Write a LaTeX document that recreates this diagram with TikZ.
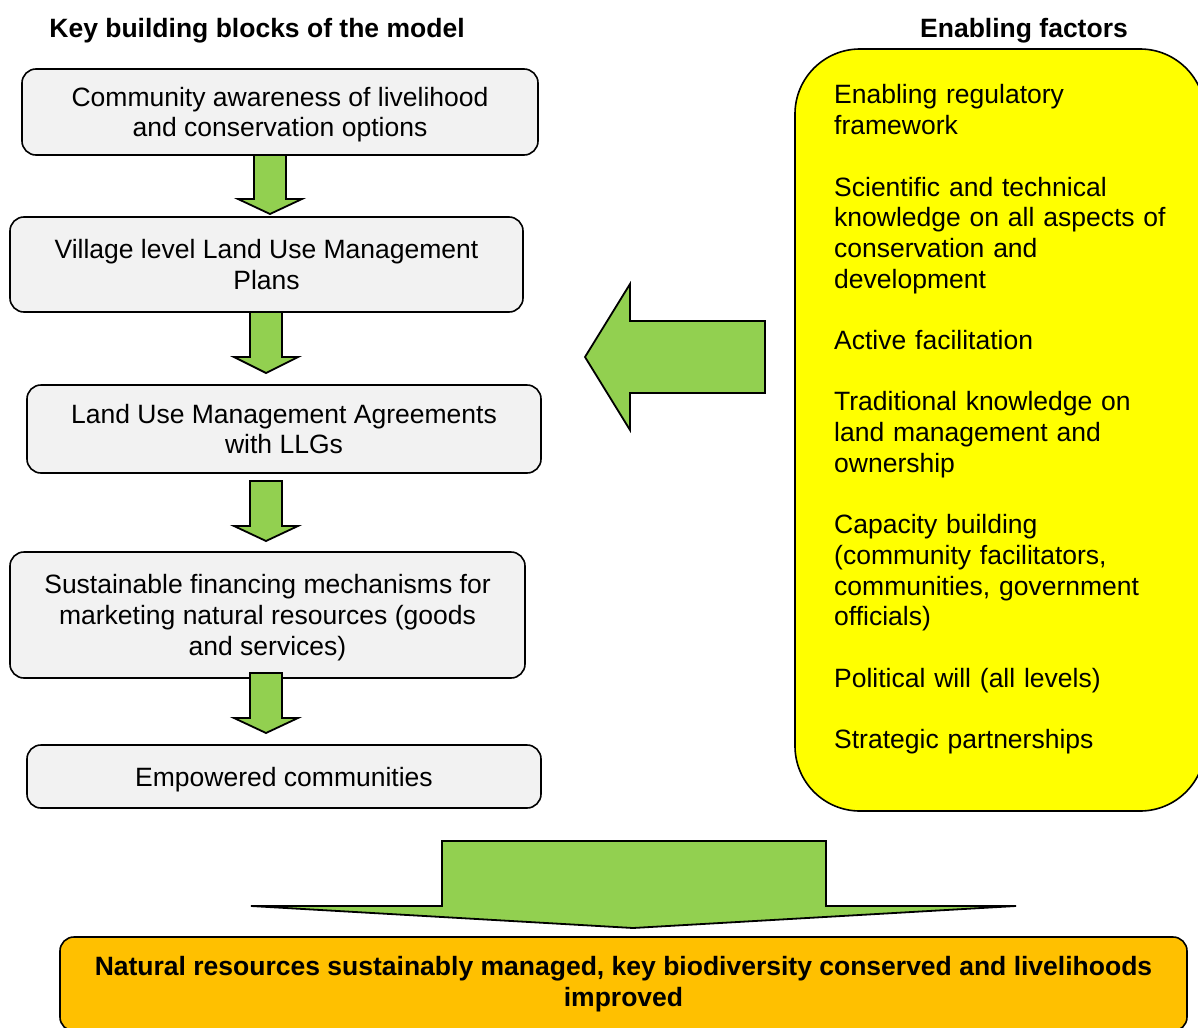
\documentclass[tikz,border=0pt]{standalone}
\usepackage{fontspec}
\setmainfont{Liberation Sans}
\definecolor{boxgray}{HTML}{F2F2F2}
\definecolor{leafgreen}{HTML}{92D050}
\definecolor{factoryellow}{HTML}{FFFF00}
\definecolor{outcomeorange}{HTML}{FFC000}
% downward block arrow: centre x, top y, head base y, tip y, shaft half width, head half width
\newcommand{\dblock}[6]{%
  \draw[fat arrow] ({#1-#5},#2) -- ({#1+#5},#2) -- ({#1+#5},#3) -- ({#1+#6},#3)
    -- (#1,#4) -- ({#1-#6},#3) -- ({#1-#5},#3) -- cycle;}
\begin{document}
\begin{tikzpicture}[x=1bp,y=-1bp,
  every node/.style={font=\fontsize{26.5bp}{30.7bp}\selectfont, inner sep=0pt},
  block/.style={draw=black, line width=1.6bp, fill=boxgray, rounded corners=14bp,
                align=center, text depth=0pt},
  fat arrow/.style={draw=black, line width=1.8bp, fill=leafgreen, line join=miter},
  heading/.style={font=\fontsize{26.5bp}{30.7bp}\selectfont\bfseries, anchor=base}]
\useasboundingbox (0,0) rectangle (1198,1028);

% column headings
\node[heading] (hblocks) at (257,37) {Key building blocks of the model};
\node[heading] (hfactors) at (1024,37) {Enabling factors};

% building blocks
\node[block, minimum width=516bp, minimum height=86bp] (aware) at (280,112)
  {Community awareness of livelihood\\and conservation options};
\node[block, minimum width=513bp, minimum height=95bp] (plans) at (266.5,264.5)
  {Village level Land Use Management\\Plans};
\node[block, minimum width=514bp, minimum height=88bp] (agree) at (284,429)
  {Land Use Management Agreements\\with LLGs};
\node[block, minimum width=515bp, minimum height=126bp] (finance) at (267.5,615)
  {Sustainable financing mechanisms for\\marketing natural resources (goods\\and services)};
\node[block, minimum width=514bp, minimum height=63bp] (empower) at (284,776.5)
  {Empowered communities};

% arrows between the blocks
\dblock{270}{155}{199}{214}{16}{32}
\dblock{266}{312}{357}{373}{16}{32}
\dblock{266}{481}{526}{541}{16}{32}
\dblock{266}{673}{718}{733}{16}{32}

% enabling factors panel
\node[draw=black, line width=1.6bp, fill=factoryellow, rounded corners=65bp,
      minimum width=410bp, minimum height=762bp] (factors) at (1000,430) {};
\node[anchor=north west, align=left, text width=360bp] (factortext) at (834,84.5)
  {Enabling regulatory\\framework\\[30.7bp]
   Scientific and technical\\knowledge on all aspects of\\conservation and\\development\\[30.7bp]
   Active facilitation\\[30.7bp]
   Traditional knowledge on\\land management and\\ownership\\[30.7bp]
   Capacity building\\(community facilitators,\\communities, government\\officials)\\[30.7bp]
   Political will (all levels)\\[30.7bp]
   Strategic partnerships};

% factors feed into the building blocks
\draw[fat arrow] (765,321) -- (765,393) -- (630,393) -- (630,430) -- (585,357)
  -- (630,284) -- (630,321) -- cycle;

% everything leads to the outcome
\draw[fat arrow] (442,841) -- (826,841) -- (826,906) -- (1016,906) -- (633,928)
  -- (251,906) -- (442,906) -- cycle;

\node[draw=black, line width=1.6bp, fill=outcomeorange, rounded corners=14bp,
      minimum width=1127bp, minimum height=94bp, align=center,
      font=\fontsize{26.5bp}{30.7bp}\selectfont\bfseries] (outcome) at (623.5,984)
  {Natural resources sustainably managed, key biodiversity conserved and livelihoods\\improved};
\end{tikzpicture}
\end{document}
